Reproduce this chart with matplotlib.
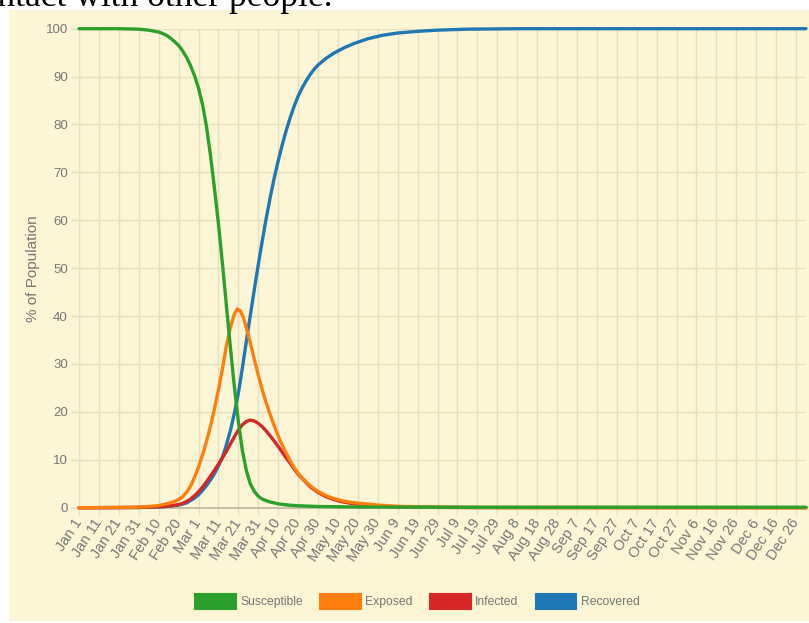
import matplotlib
matplotlib.use("Agg")
import matplotlib.pyplot as plt
from matplotlib.patches import Patch, Rectangle

plt.rcParams['font.family'] = ['Liberation Sans', 'DejaVu Sans']

# ---------------- data ----------------
tick_days = list(range(0, 361, 10))
tick_labels = ["Jan 1", "Jan 11", "Jan 21", "Jan 31", "Feb 10", "Feb 20", "Mar 1",
               "Mar 11", "Mar 21", "Mar 31", "Apr 10", "Apr 20", "Apr 30", "May 10",
               "May 20", "May 30", "Jun 9", "Jun 19", "Jun 29", "Jul 9", "Jul 19",
               "Jul 29", "Aug 8", "Aug 18", "Aug 28", "Sep 7", "Sep 17", "Sep 27",
               "Oct 7", "Oct 17", "Oct 27", "Nov 6", "Nov 16", "Nov 26", "Dec 6",
               "Dec 16", "Dec 26"]
y_ticks = list(range(0, 101, 10))

sus_days = [0, 20, 30, 35, 40, 42, 44, 46, 48, 50, 52, 54, 56, 58, 60, 62, 64, 66, 68,
            70, 72, 74, 76, 78, 80, 82, 84, 86, 88, 90, 92, 95, 100, 105, 110, 120, 140,
            180, 365]
sus_vals = [100, 100, 99.9, 99.7, 99.3, 99.0, 98.6, 98.0, 97.3, 96.5, 95.4, 94.0, 92.3,
            90.2, 87.6, 84.2, 79.6, 73.6, 66.7, 59.3, 51.0, 42.2, 33.5, 25.3, 18.0, 12.0,
            7.8, 5.0, 3.4, 2.4, 1.8, 1.3, 0.8, 0.55, 0.4, 0.25, 0.15, 0.1, 0.1]

exp_days = [0, 20, 30, 35, 40, 44, 48, 50, 52, 54, 56, 58, 60, 62, 64, 66, 68, 70, 72,
            74, 76, 78, 79.5, 81, 82.5, 84, 86, 88, 90, 92, 94, 96, 98, 100, 102, 104,
            106, 108, 110, 113, 116, 120, 124, 128, 132, 136, 140, 150, 160, 175, 200, 365]
exp_vals = [0, 0.05, 0.12, 0.25, 0.45, 0.8, 1.3, 1.7, 2.3, 3.2, 4.5, 6.3, 8.5, 11.0,
            13.8, 17.0, 20.6, 24.6, 29.0, 33.8, 37.6, 40.4, 41.5, 41.1, 39.7, 37.6, 34.4,
            31.0, 27.7, 24.6, 21.9, 19.4, 17.1, 15.0, 13.1, 11.4, 9.8, 8.4, 7.2, 5.8, 4.6,
            3.4, 2.5, 1.9, 1.45, 1.15, 0.95, 0.55, 0.3, 0.15, 0.05, 0]

inf_days = [0, 20, 30, 40, 44, 48, 50, 52, 54, 56, 58, 60, 62, 64, 66, 68, 70, 72, 74,
            76, 78, 80, 82, 84, 86, 88, 90, 92, 94, 96, 98, 100, 102, 104, 106, 108, 110,
            113, 116, 120, 124, 128, 132, 136, 140, 150, 160, 175, 200, 365]
inf_vals = [0, 0.02, 0.05, 0.2, 0.3, 0.5, 0.65, 0.9, 1.3, 1.8, 2.5, 3.3, 4.3, 5.4, 6.6,
            7.8, 9.1, 10.4, 11.8, 13.3, 14.8, 16.2, 17.3, 18.0, 18.3, 18.1, 17.6, 16.9,
            16.0, 15.0, 13.9, 12.8, 11.6, 10.4, 9.3, 8.1, 7.0, 5.7, 4.4, 3.2, 2.3, 1.7,
            1.25, 0.95, 0.7, 0.35, 0.18, 0.08, 0.02, 0]

rec_days = [0, 30, 40, 46, 50, 54, 58, 60, 62, 64, 66, 68, 70, 72, 74, 76, 78, 80, 82,
            84, 86, 88, 90, 92, 94, 96, 98, 100, 102, 104, 106, 108, 110, 112, 114, 116,
            118, 120, 124, 128, 133, 138, 145, 152, 160, 170, 180, 195, 220, 365]
rec_vals = [0, 0.05, 0.15, 0.35, 0.55, 1.0, 2.0, 2.7, 3.6, 4.6, 5.8, 7.1, 8.7, 10.5,
            13.1, 16.1, 19.7, 23.9, 29.1, 34.7, 40.1, 45.5, 50.7, 55.7, 60.4, 64.8, 68.8,
            72.4, 75.7, 78.7, 81.4, 83.8, 85.9, 87.6, 89.1, 90.4, 91.5, 92.4, 93.8, 94.9,
            96.0, 96.9, 97.9, 98.6, 99.1, 99.45, 99.7, 99.9, 100, 100]

series = [
    ("Susceptible", sus_days, sus_vals, "#2ca02c"),
    ("Exposed", exp_days, exp_vals, "#ff7f0e"),
    ("Infected", inf_days, inf_vals, "#d62728"),
    ("Recovered", rec_days, rec_vals, "#1f77b4"),
]

# ---------------- figure ----------------
W, H = 809, 623
fig = plt.figure(figsize=(W / 100, H / 100), dpi=100, facecolor="white")

panel_col = "#fdf6d6"
grid_col = "#e6dfc0"
zero_col = "#bdb7a0"
text_col = "#777777"

fig.patches.append(Rectangle((9 / W, 2 / H), 1 - 9 / W, (621 - 10) / H,
                             transform=fig.transFigure, facecolor=panel_col,
                             edgecolor="none", zorder=-10))

# cut-off sentence above the chart (as in the reference screenshot)
fig.text(333 / W, 1 - 6 / H, "contact with other people.", ha="right", va="baseline",
         fontsize=25.5, family=["Liberation Serif", "DejaVu Serif"], color="black")

ax = fig.add_axes([79 / W, 1 - 507.7 / H, (805 - 79) / W, (507.7 - 28.7) / H])
ax.set_facecolor("none")
ax.set_zorder(1)

n = len(series)
for i, (name, d, v, c) in enumerate(series):
    ax.plot(d, v, color=c, lw=2.4, solid_capstyle="round", solid_joinstyle="round",
            zorder=10 + (n - i), clip_on=False)

ax.set_xlim(0, 364.5)
ax.set_ylim(0, 100)
ax.set_xticks(tick_days)
ax.set_xticklabels(tick_labels, rotation=57, ha="right", va="center",
                   rotation_mode="anchor")
ax.set_yticks(y_ticks)
ax.set_yticklabels([str(t) for t in y_ticks])

ax.grid(True, color=grid_col, lw=1, zorder=0)
ax.set_axisbelow(True)
for s in ["top", "right"]:
    ax.spines[s].set_visible(False)
ax.spines["left"].set_color(grid_col)
ax.spines["bottom"].set_color(zero_col)
ax.spines["bottom"].set_linewidth(1.2)

ax.tick_params(axis="x", colors=grid_col, labelcolor=text_col, length=5, width=1,
               pad=4, labelsize=10.5)
ax.tick_params(axis="y", colors=grid_col, labelcolor=text_col, length=6, width=1,
               pad=2, labelsize=9.5)

ax.set_ylabel("% of Population", color=text_col, fontsize=11)
ax.yaxis.set_label_coords((33 - 79) / (805 - 79), 0.5)
ax.yaxis.label.set_verticalalignment("center")

handles = [Patch(facecolor=c, edgecolor=c, lw=0.8) for _, _, _, c in series]
labels = [name for name, _, _, _ in series]
leg = fig.legend(handles, labels, loc="center", bbox_to_anchor=(417 / W, 1 - 601 / H),
                 ncol=4, frameon=False, fontsize=8.7, handlelength=3.45,
                 handleheight=1.6, handletextpad=0.35, columnspacing=1.35,
                 labelcolor=text_col)

fig.savefig("out.png", dpi=100, facecolor="white")
